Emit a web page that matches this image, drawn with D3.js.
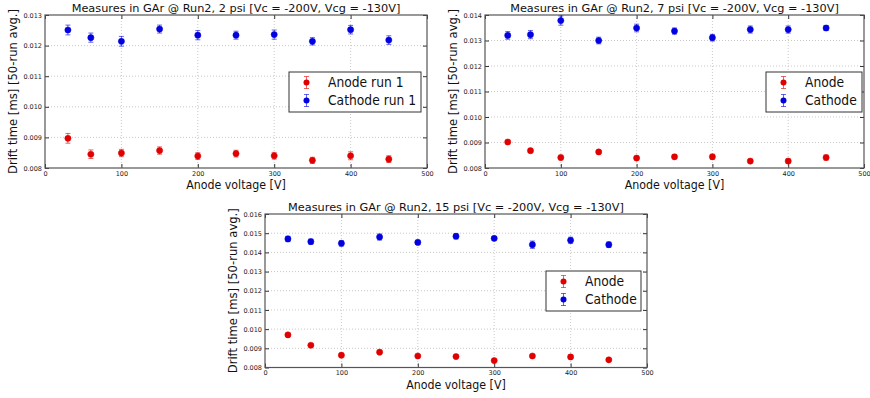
<!DOCTYPE html>
<html><head><meta charset="utf-8">
<script src="https://cdn.jsdelivr.net/npm/d3@7"></script>
<style>body{margin:0;background:#fff}svg{display:block}text{font-family:"DejaVu Sans",sans-serif}</style>
</head><body><svg id="c" width="870" height="398"></svg>
<script>
const voltages = [30, 60, 100, 150, 200, 250, 300, 350, 400, 450];

const anode2psi   = [0.00897, 0.00845, 0.00849, 0.00857, 0.00839, 0.00847, 0.00840, 0.00825, 0.00840, 0.00829];
const cathode2psi = [0.01251, 0.01226, 0.01214, 0.01254, 0.01234, 0.01234, 0.01236, 0.01214, 0.01252, 0.01218];
const anodeErr2psi   = [0.00016, 0.00014, 0.00012, 0.00012, 0.00011, 0.00011, 0.00011, 0.00010, 0.00013, 0.00011];
const cathodeErr2psi = [0.00016, 0.00015, 0.00016, 0.00013, 0.00015, 0.00013, 0.00015, 0.00012, 0.00014, 0.00014];

const anode7psi   = [0.00902, 0.00868, 0.00841, 0.00863, 0.00839, 0.00844, 0.00844, 0.00827, 0.00827, 0.00841];
const cathode7psi = [0.01320, 0.01323, 0.01378, 0.01300, 0.01349, 0.01337, 0.01311, 0.01343, 0.01343, 0.01349];
const anodeErr7psi   = [0.00007, 0.00007, 0.00009, 0.00005, 0.00007, 0.00008, 0.00010, 0.00007, 0.00008, 0.00010];
const cathodeErr7psi = [0.00015, 0.00016, 0.00018, 0.00013, 0.00015, 0.00012, 0.00013, 0.00014, 0.00014, 0.00010];

const anode15psi   = [0.00970, 0.00916, 0.00864, 0.00880, 0.00860, 0.00857, 0.00836, 0.00860, 0.00855, 0.00840];
const cathode15psi = [0.01470, 0.01456, 0.01447, 0.01480, 0.01452, 0.01484, 0.01473, 0.01440, 0.01463, 0.01440];
const anodeErr15psi   = [0.00006, 0.00005, 0.00006, 0.00005, 0.00006, 0.00005, 0.00005, 0.00005, 0.00008, 0.00005];
const cathodeErr15psi = [0.00014, 0.00013, 0.00014, 0.00016, 0.00011, 0.00014, 0.00010, 0.00019, 0.00016, 0.00014];

const xTicks = [0, 100, 200, 300, 400, 500];
const yTicks2psi  = [0.008, 0.009, 0.010, 0.011, 0.012, 0.013];
const yTicks7psi  = [0.008, 0.009, 0.010, 0.011, 0.012, 0.013, 0.014];
const yTicks15psi = [0.008, 0.009, 0.010, 0.011, 0.012, 0.013, 0.014, 0.015, 0.016];

const titles = [
  "Measures in GAr @ Run2, 2 psi [Vc = -200V, Vcg = -130V]",
  "Measures in GAr @ Run2, 7 psi [Vc = -200V, Vcg = -130V]",
  "Measures in GAr @ Run2, 15 psi [Vc = -200V, Vcg = -130V]"
];
const legendNames = [["Anode run 1", "Cathode run 1"], ["Anode", "Cathode"], ["Anode", "Cathode"]];
const xLabel = "Anode voltage [V]";
const yLabel = "Drift time [ms] [50-run avg.]";

const RED = "#e00000", BLUE = "#0000e0";
const svg = d3.select("#c");

function squish(sel, ratio) {
  sel.each(function () {
    const L = this.getComputedTextLength();
    d3.select(this).attr("textLength", L * ratio).attr("lengthAdjust", "spacingAndGlyphs");
  });
  return sel;
}

function panel(cfg) {
  const {left, right, top, bottom, yTicks, anode, cathode, aErr, cErr, title, names, legend} = cfg;
  const g = svg.append("g");
  const x = d3.scaleLinear().domain([0, 500]).range([left, right]);
  const y = d3.scaleLinear().domain([yTicks[0], yTicks[yTicks.length - 1]]).range([bottom, top]);
  const W = right - left, H = bottom - top;
  // grid
  g.append("g").selectAll("line").data(xTicks.slice(1, -1)).join("line")
    .attr("x1", d => x(d)).attr("x2", d => x(d)).attr("y1", top).attr("y2", bottom)
    .attr("stroke", "#bbb").attr("stroke-width", 0.8).attr("stroke-dasharray", "1,2");
  g.append("g").selectAll("line").data(yTicks.slice(1, -1)).join("line")
    .attr("y1", d => y(d)).attr("y2", d => y(d)).attr("x1", left).attr("x2", right)
    .attr("stroke", "#bbb").attr("stroke-width", 0.8).attr("stroke-dasharray", "1,2");
  // axes with inward ticks
  const fmt = d3.format(".3f");
  const axB = g.append("g").attr("transform", `translate(0,${bottom})`)
    .call(d3.axisBottom(x).tickValues(xTicks).tickSizeInner(-4).tickSizeOuter(0).tickPadding(3));
  const axT = g.append("g").attr("transform", `translate(0,${top})`)
    .call(d3.axisTop(x).tickValues(xTicks).tickSizeInner(-4).tickSizeOuter(0).tickFormat(""));
  const axL = g.append("g").attr("transform", `translate(${left},0)`)
    .call(d3.axisLeft(y).tickValues(yTicks).tickFormat(fmt).tickSizeInner(-4).tickSizeOuter(0).tickPadding(3));
  const axR = g.append("g").attr("transform", `translate(${right},0)`)
    .call(d3.axisRight(y).tickValues(yTicks).tickFormat("").tickSizeInner(-4).tickSizeOuter(0));
  [axB, axT, axL, axR].forEach(a => {
    a.select(".domain").remove();
    a.selectAll("line").attr("stroke", "#333");
    a.selectAll("text").attr("font-size", 6.5).attr("fill", "#222").attr("font-family", "DejaVu Sans");
  });
  g.append("rect").attr("x", left).attr("y", top).attr("width", W).attr("height", H)
    .attr("fill", "none").attr("stroke", "#555").attr("stroke-width", 1.2);
  // title & labels
  g.append("text").attr("x", (left + right) / 2).attr("y", top - 3).attr("text-anchor", "middle")
    .attr("font-size", 11.3).attr("fill", "#111").text(title);
  squish(g.append("text").attr("x", (left + right) / 2).attr("y", bottom + 21).attr("text-anchor", "middle")
    .attr("font-size", 13).attr("fill", "#111").text(xLabel), 0.85);
  g.append("text").attr("transform", `translate(${left - 28.5},${(top + bottom) / 2}) rotate(-90)`)
    .attr("text-anchor", "middle").attr("font-size", 11.6).attr("fill", "#111").text(yLabel);
  // data
  function series(vals, errs, color) {
    const s = g.append("g");
    const pts = voltages.map((v, i) => ({v, y: vals[i], e: errs[i]}));
    s.selectAll("line.eb").data(pts).join("line").attr("class", "eb")
      .attr("x1", d => x(d.v)).attr("x2", d => x(d.v)).attr("y1", d => y(d.y - d.e)).attr("y2", d => y(d.y + d.e))
      .attr("stroke", color).attr("stroke-opacity", 0.6).attr("stroke-width", 1);
    [-1, 1].forEach(sg => {
      s.selectAll("line.cap" + sg).data(pts).join("line")
        .attr("x1", d => x(d.v) - 2.5).attr("x2", d => x(d.v) + 2.5)
        .attr("y1", d => y(d.y + sg * d.e)).attr("y2", d => y(d.y + sg * d.e))
        .attr("stroke", color).attr("stroke-opacity", 0.6).attr("stroke-width", 1);
    });
    s.selectAll("circle").data(pts).join("circle")
      .attr("cx", d => x(d.v)).attr("cy", d => y(d.y)).attr("r", 3.1)
      .attr("fill", color).attr("stroke", color).attr("stroke-width", 0.5);
  }
  series(anode, aErr, RED);
  series(cathode, cErr, BLUE);
  // legend
  const lg = g.append("g");
  lg.append("rect").attr("x", legend.x).attr("y", legend.y).attr("width", legend.w).attr("height", legend.h)
    .attr("fill", "#fff").attr("stroke", "#333").attr("stroke-width", 1);
  [[names[0], RED], [names[1], BLUE]].forEach(([n, c], i) => {
    const cy = legend.y + 10.5 + i * 18, mx = legend.x + 17.5;
    lg.append("line").attr("x1", mx).attr("x2", mx).attr("y1", cy - 6).attr("y2", cy + 6)
      .attr("stroke", c).attr("stroke-opacity", 0.6);
    lg.append("line").attr("x1", mx - 2.5).attr("x2", mx + 2.5).attr("y1", cy - 6).attr("y2", cy - 6).attr("stroke", c).attr("stroke-opacity", 0.6);
    lg.append("line").attr("x1", mx - 2.5).attr("x2", mx + 2.5).attr("y1", cy + 6).attr("y2", cy + 6).attr("stroke", c).attr("stroke-opacity", 0.6);
    lg.append("circle").attr("cx", mx).attr("cy", cy).attr("r", 3).attr("fill", c);
    squish(lg.append("text").attr("x", legend.x + legend.tx).attr("y", cy + 4.5).attr("font-size", 14.5)
      .attr("fill", "#111").text(n), 0.85);
  });
}

panel({left: 45, right: 427, top: 15, bottom: 168, yTicks: yTicks2psi,
  anode: anode2psi, cathode: cathode2psi, aErr: anodeErr2psi, cErr: cathodeErr2psi,
  title: titles[0], names: legendNames[0], legend: {x: 289, y: 72, w: 132, h: 40, tx: 39}});
panel({left: 485, right: 864, top: 15, bottom: 168, yTicks: yTicks7psi,
  anode: anode7psi, cathode: cathode7psi, aErr: anodeErr7psi, cErr: cathodeErr7psi,
  title: titles[1], names: legendNames[1], legend: {x: 766, y: 72, w: 96, h: 40, tx: 39}});
panel({left: 265, right: 647, top: 214, bottom: 367.5, yTicks: yTicks15psi,
  anode: anode15psi, cathode: cathode15psi, aErr: anodeErr15psi, cErr: cathodeErr15psi,
  title: titles[2], names: legendNames[2], legend: {x: 546, y: 271, w: 95, h: 40, tx: 39}});
</script></body></html>
